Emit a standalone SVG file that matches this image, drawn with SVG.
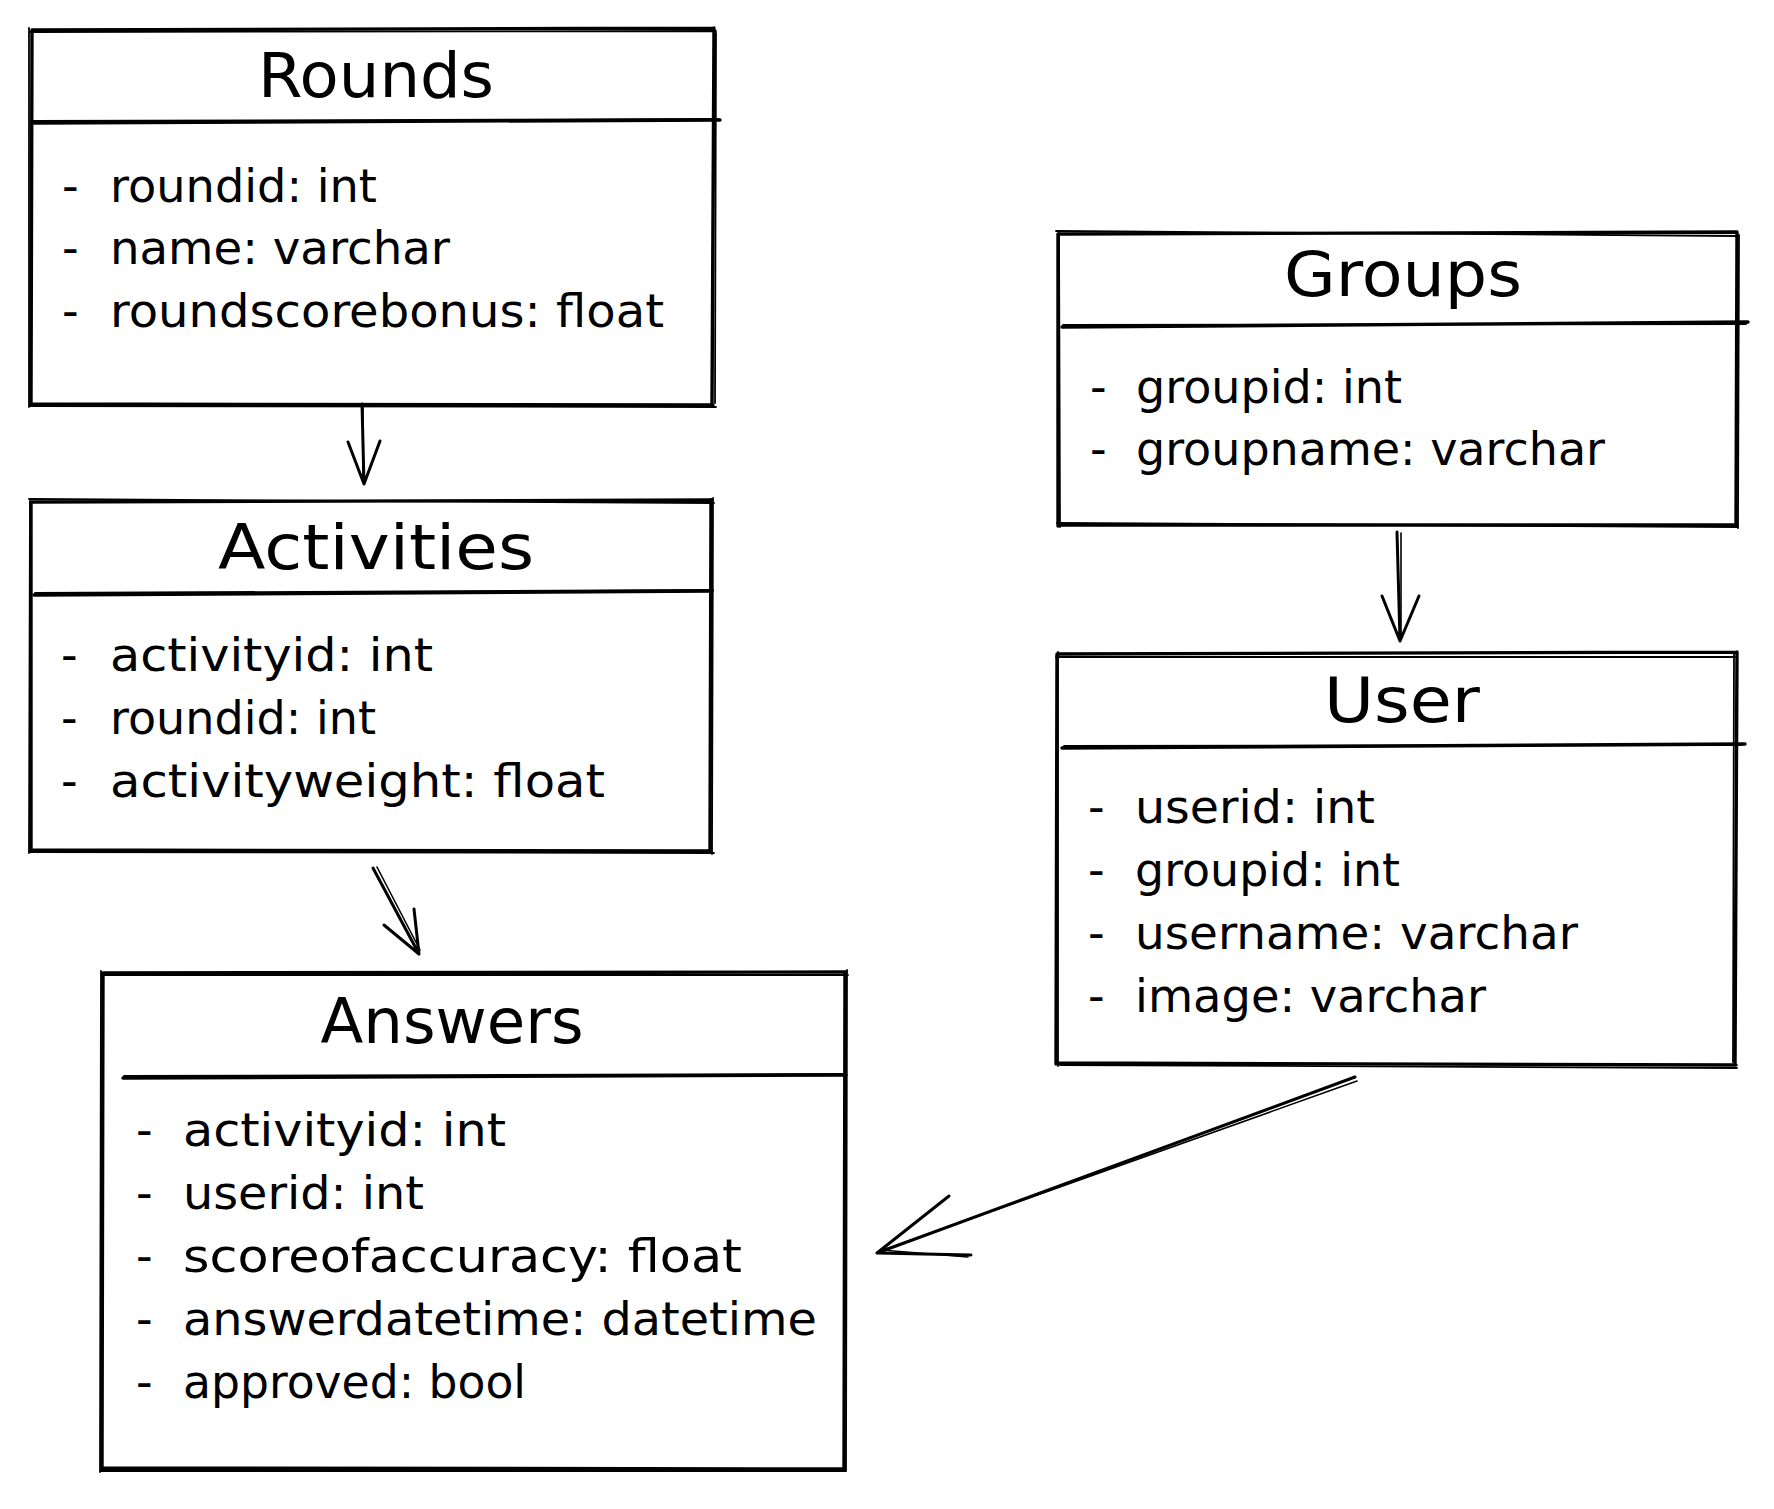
<svg xmlns="http://www.w3.org/2000/svg" width="1774" height="1509" viewBox="0 0 1774 1509">
<style>
.edge{fill:none;stroke:#000;stroke-width:3.4;stroke-linecap:round;stroke-linejoin:round}
.edge2{fill:none;stroke:#000;stroke-width:1.8;stroke-linecap:round}
.title{font-family:"DejaVu Sans",sans-serif;font-size:62px;fill:#000;text-anchor:middle}
.attr{font-family:"DejaVu Sans",sans-serif;font-size:46px;fill:#000}
.conn{fill:none;stroke:#000;stroke-width:3;stroke-linecap:round;stroke-linejoin:round}
.conn2{fill:none;stroke:#000;stroke-width:1.6;stroke-linecap:round}
</style>
<rect x="0" y="0" width="1774" height="1509" fill="#fff"/>

<g id="rounds">
<path class="edge" d="M32 30 L714 28 M714 28 L712 405 M713 405 L31 404 M31 404 L32 30"/>
<path class="edge2" d="M30 32 L716 31 M716 33 L715 403 M716 407 L30 406 M29 407 L29 28"/>
<path class="edge" d="M34 123 L720 120"/>
<path class="edge2" d="M33 121 L718 119"/>
<text class="title" x="376" y="97" textLength="236" lengthAdjust="spacingAndGlyphs">Rounds</text>
<text class="attr" y="202"><tspan x="62">-</tspan><tspan x="110" textLength="267" lengthAdjust="spacingAndGlyphs">roundid: int</tspan></text>
<text class="attr" y="264"><tspan x="62">-</tspan><tspan x="110" textLength="340" lengthAdjust="spacingAndGlyphs">name: varchar</tspan></text>
<text class="attr" y="327"><tspan x="62">-</tspan><tspan x="110" textLength="554" lengthAdjust="spacingAndGlyphs">roundscorebonus: float</tspan></text>
</g>

<g id="activities">
<path class="edge" d="M31 502 L712 500 M711 500 L710 851 M710 851 L31 850 M31 851 L31 502"/>
<path class="edge2" d="M29 499 L714 503 M713 498 L712 854 M714 853 L30 852 M29 853 L30 499"/>
<path class="edge" d="M34 595 L712 591"/>
<path class="edge2" d="M35 593 L713 590"/>
<text class="title" x="376" y="569" textLength="316" lengthAdjust="spacingAndGlyphs">Activities</text>
<text class="attr" y="671"><tspan x="61">-</tspan><tspan x="110" textLength="323" lengthAdjust="spacingAndGlyphs">activityid: int</tspan></text>
<text class="attr" y="734"><tspan x="61">-</tspan><tspan x="110" textLength="266" lengthAdjust="spacingAndGlyphs">roundid: int</tspan></text>
<text class="attr" y="797"><tspan x="61">-</tspan><tspan x="110" textLength="495" lengthAdjust="spacingAndGlyphs">activityweight: float</tspan></text>
</g>

<g id="answers">
<path class="edge" d="M103 973 L846 972 M845 972 L844 1469 M844 1469 L102 1468 M102 1469 L103 973"/>
<path class="edge2" d="M101 975 L848 975 M847 970 L846 1471 M846 1471 L101 1471 M100 1472 L101 971"/>
<path class="edge" d="M123 1078 L846 1075"/>
<path class="edge2" d="M124 1076 L845 1074"/>
<text class="title" x="452" y="1043" textLength="263" lengthAdjust="spacingAndGlyphs">Answers</text>
<text class="attr" y="1146"><tspan x="136">-</tspan><tspan x="183" textLength="323" lengthAdjust="spacingAndGlyphs">activityid: int</tspan></text>
<text class="attr" y="1209"><tspan x="136">-</tspan><tspan x="183" textLength="241" lengthAdjust="spacingAndGlyphs">userid: int</tspan></text>
<text class="attr" y="1272"><tspan x="136">-</tspan><tspan x="183" textLength="559" lengthAdjust="spacingAndGlyphs">scoreofaccuracy: float</tspan></text>
<text class="attr" y="1335"><tspan x="136">-</tspan><tspan x="183" textLength="634" lengthAdjust="spacingAndGlyphs">answerdatetime: datetime</tspan></text>
<text class="attr" y="1398"><tspan x="136">-</tspan><tspan x="183" textLength="343" lengthAdjust="spacingAndGlyphs">approved: bool</tspan></text>
</g>

<g id="groups">
<path class="edge" d="M1058 234 L1737 232 M1737 232 L1736 525 M1737 525 L1058 525 M1058 526 L1058 234"/>
<path class="edge2" d="M1056 231 L1738 236 M1739 235 L1738 528 M1738 527 L1057 523 M1060 527 L1059 232"/>
<path class="edge" d="M1062 327 L1748 322"/>
<path class="edge2" d="M1063 325 L1746 324"/>
<text class="title" x="1403" y="296" textLength="238" lengthAdjust="spacingAndGlyphs">Groups</text>
<text class="attr" y="403"><tspan x="1090">-</tspan><tspan x="1136" textLength="266" lengthAdjust="spacingAndGlyphs">groupid: int</tspan></text>
<text class="attr" y="465"><tspan x="1090">-</tspan><tspan x="1136" textLength="469" lengthAdjust="spacingAndGlyphs">groupname: varchar</tspan></text>
</g>

<g id="user">
<path class="edge" d="M1057 654 L1737 652 M1737 652 L1735 1065 M1736 1065 L1056 1063 M1056 1064 L1057 654"/>
<path class="edge2" d="M1056 657 L1735 657 M1734 654 L1733 1062 M1737 1068 L1060 1065 M1058 1066 L1058 652"/>
<path class="edge" d="M1062 748 L1745 744"/>
<path class="edge2" d="M1064 746 L1741 745"/>
<text class="title" x="1402" y="722" textLength="156" lengthAdjust="spacingAndGlyphs">User</text>
<text class="attr" y="823"><tspan x="1088">-</tspan><tspan x="1135" textLength="240" lengthAdjust="spacingAndGlyphs">userid: int</tspan></text>
<text class="attr" y="886"><tspan x="1088">-</tspan><tspan x="1135" textLength="265" lengthAdjust="spacingAndGlyphs">groupid: int</tspan></text>
<text class="attr" y="949"><tspan x="1088">-</tspan><tspan x="1135" textLength="443" lengthAdjust="spacingAndGlyphs">username: varchar</tspan></text>
<text class="attr" y="1012"><tspan x="1088">-</tspan><tspan x="1135" textLength="351" lengthAdjust="spacingAndGlyphs">image: varchar</tspan></text>
</g>

<g id="connectors">
<path class="conn" d="M362 404 L364 484 M348 442 L364 484 L380 441"/>
<path class="conn2" d="M363 406 L363 482"/>
<path class="conn" d="M373 868 L419 954 M384 925 L419 954 L414 909"/>
<path class="conn2" d="M377 867 L420 950"/>
<path class="conn" d="M1397 532 L1400 641 M1382 596 L1400 641 L1419 596"/>
<path class="conn2" d="M1401 533 L1401 638"/>
<path class="conn" d="M1355 1077 L877 1253 M949 1196 L877 1253 L971 1255"/>
<path class="conn2" d="M1357 1081 L880 1251 M881 1250 L968 1257"/>
</g>
</svg>
